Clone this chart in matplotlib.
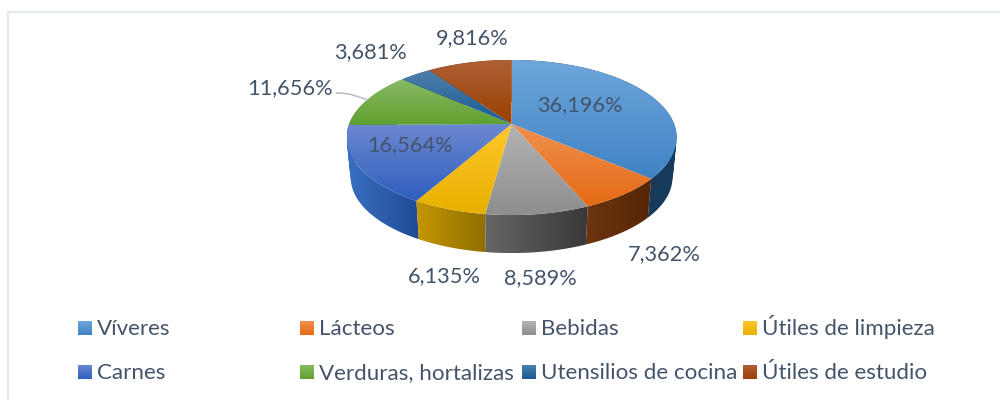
import numpy as np
import matplotlib
matplotlib.use("Agg")
import matplotlib.pyplot as plt
from matplotlib.path import Path
from matplotlib.patches import PathPatch
from matplotlib.colors import LinearSegmentedColormap as LSC

categories = ["Víveres", "Lácteos", "Bebidas", "Útiles de limpieza",
              "Carnes", "Verduras, hortalizas", "Utensilios de cocina", "Útiles de estudio"]
values = [36.196, 7.362, 8.589, 6.135, 16.564, 11.656, 3.681, 9.816]
labels = ["36,196%", "7,362%", "8,589%", "6,135%", "16,564%", "11,656%", "3,681%", "9,816%"]
top_light = ["#6fa6dc", "#f0914f", "#b4b4b4", "#ffc72c", "#6b88cf", "#88ba65", "#4f7fab", "#ae6036"]
top_dark = ["#3f83c4", "#e56a15", "#8e8e8e", "#e8b000", "#2f5fbe", "#60a02f", "#185a97", "#9a3f00"]
wall_left = ["#1e4060", "#6e3510", "#666666", "#c49600", "#3a70c2", "#4a7a25", "#1a4a76", "#7a3200"]
wall_right = ["#163a5a", "#542505", "#383838", "#8f6f00", "#1f4a94", "#4a7a25", "#1a4a76", "#7a3200"]
label_pos = [(580, 105), (664, 254), (540, 278), (444, 276), (410, 145), (290, 88), (370, 52), (472, 38)]
legend_x = [78, 300, 522, 743]
legend_y = [328, 372]

TEXT = "#44546a"
FONT = "Lato"
W, H = 1000, 400
fig = plt.figure(figsize=(W / 100, H / 100), dpi=100)
ax = fig.add_axes([0, 0, 1, 1])

CX, CY, A, B, K = 511.6, 124.0, 162.5, 75.2, 0.174
DEPTH, SHRINK = 40.3, 0.975


def project(theta, r=1.0, bottom=False):
    X, Y = r * np.sin(theta), r * np.cos(theta)
    d = 1 + K * Y
    u, v = A * X / d, -B * Y / d
    if bottom:
        return CX + SHRINK * u, CY + DEPTH + SHRINK * v
    return CX + u, CY + v


def gradient(path, c0, c1, horizontal=False, z=1):
    (x0, y0), (x1, y1) = path.get_extents().get_points()
    cmap = LSC.from_list("g", [c0, c1])
    arr = np.linspace(0, 1, 128).reshape((1, -1) if horizontal else (-1, 1))
    im = ax.imshow(arr, cmap=cmap, vmin=0, vmax=1, aspect="auto", origin="upper",
                   extent=(x0, x1, y1, y0), zorder=z, interpolation="bilinear")
    patch = PathPatch(path, transform=ax.transData, fc="none", ec="none")
    ax.add_patch(patch)
    im.set_clip_path(patch)


edges = np.radians(np.concatenate([[0], np.cumsum(values)]) / np.sum(values) * 360)

# side walls, farthest first
order = np.argsort([-np.cos((edges[i] + edges[i + 1]) / 2) for i in range(len(values))])
for z, i in enumerate(order):
    th = np.linspace(edges[i], edges[i + 1], 90)
    tx, ty = project(th)
    bx, by = project(th, bottom=True)
    verts, codes = [], []
    for j in range(len(th) - 1):
        q = [(tx[j], ty[j]), (tx[j + 1], ty[j + 1]), (bx[j + 1], by[j + 1]), (bx[j], by[j])]
        qa = np.array(q)
        area = np.sum(qa[:, 0] * np.roll(qa[:, 1], -1) - np.roll(qa[:, 0], -1) * qa[:, 1])
        if area < 0:
            q = q[::-1]
        verts += q + [q[0]]
        codes += [Path.MOVETO, Path.LINETO, Path.LINETO, Path.LINETO, Path.CLOSEPOLY]
    gradient(Path(verts, codes), wall_left[i], wall_right[i], horizontal=True, z=2 + z * 0.01)

# top face
for i in range(len(values)):
    th = np.linspace(edges[i], edges[i + 1], 120)
    tx, ty = project(th)
    v = [(CX, CY)] + list(zip(tx, ty)) + [(CX, CY)]
    gradient(Path(v, [Path.MOVETO] + [Path.LINETO] * (len(v) - 2) + [Path.CLOSEPOLY]),
             top_light[i], top_dark[i], z=3)

# leader line
leader = Path([(336, 93), (352, 93), (358, 97), (368, 100)], [Path.MOVETO, Path.CURVE4, Path.CURVE4, Path.CURVE4])
ax.add_patch(PathPatch(leader, fc="none", ec="#b4bcc8", lw=1.1, zorder=4))

# data labels
for s, (x, y) in zip(labels, label_pos):
    ax.text(x, y, s, ha="center", va="center", fontsize=15.7, color=TEXT, family=FONT, zorder=5)

# legend
for i, name in enumerate(categories):
    x, y = legend_x[i % 4], legend_y[i // 4]
    sq = Path([(x, y - 7), (x + 14, y - 7), (x + 14, y + 7), (x, y + 7), (x, y - 7)],
              [Path.MOVETO, Path.LINETO, Path.LINETO, Path.LINETO, Path.CLOSEPOLY])
    gradient(sq, top_light[i], top_dark[i], z=3)
    ax.text(x + 19, y + 7, name, ha="left", va="baseline", fontsize=16.1, color=TEXT, family=FONT, zorder=5)

# chart frame
ax.plot([8, 8, 1000], [400, 11.5, 11.5], color="#e3e7ee", lw=1.4, zorder=1)

ax.set_xlim(0, W)
ax.set_ylim(H, 0)
ax.axis("off")
fig.savefig("out.png", dpi=100, facecolor="white")
